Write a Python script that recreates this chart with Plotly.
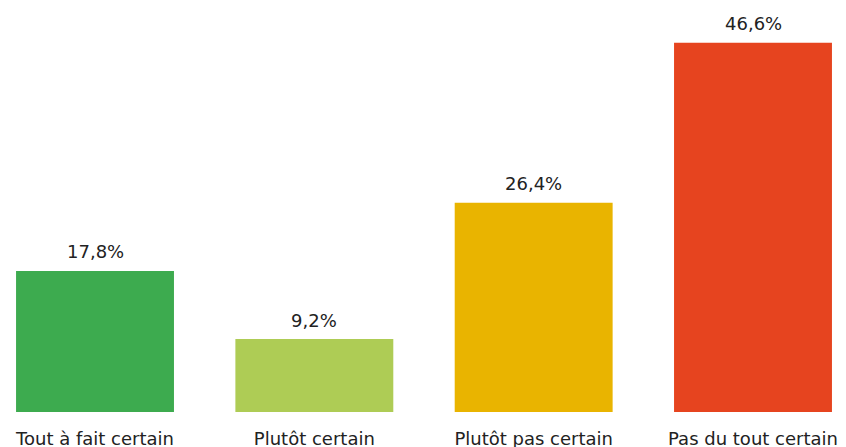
import plotly.graph_objects as go

categories = ["Tout à fait certain", "Plutôt certain", "Plutôt pas certain", "Pas du tout certain"]
values = [17.8, 9.2, 26.4, 46.6]
colors = ["#3dab4f", "#aecc55", "#e9b400", "#e6441f"]

FONT = "DejaVu Sans, sans-serif"

fig = go.Figure(go.Bar(
    x=categories, y=values,
    marker=dict(color=colors, line=dict(width=0)),
    hoverinfo="x+y",
))
for c, v in zip(categories, values):
    fig.add_annotation(
        x=c, y=v, text=f"{v:.1f}%".replace(".", ","),
        showarrow=False, yanchor="middle", yshift=19,
        font=dict(family=FONT, size=18, color="#222222"),
    )
fig.update_layout(
    width=838, height=439,
    margin=dict(l=0, r=0, t=0, b=35.3),
    paper_bgcolor="white", plot_bgcolor="white",
    bargap=0.28,
    showlegend=False,
    font=dict(family=FONT, size=18, color="#222222"),
    xaxis=dict(range=[-0.3967, 3.424], showgrid=False, showline=False, ticks="",
               ticklabelstandoff=14, automargin=False,
               tickfont=dict(family=FONT, size=18, color="#222222")),
    yaxis=dict(range=[0, 50.98], visible=False, showgrid=False),
)
fig.write_html("out.html")
